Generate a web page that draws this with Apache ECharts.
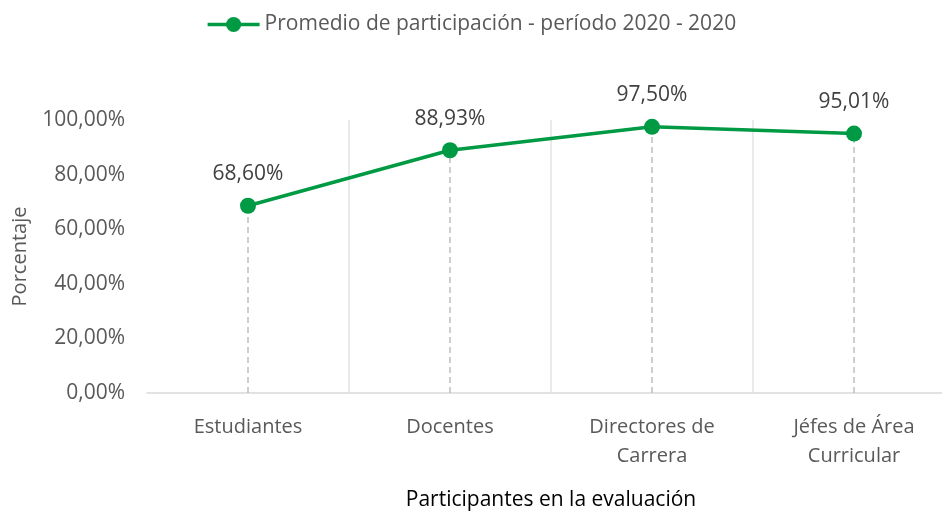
<!DOCTYPE html>
<html>
<head>
    <meta charset="utf-8">
    <title>Promedio de participación</title>
    <script src="https://cdn.jsdelivr.net/npm/echarts@6/dist/echarts.min.js"></script>
    <style>
        html, body { margin: 0; padding: 0; background: #fff; }
        #main { width: 942px; height: 515px; }
    </style>
</head>
<body>
<div id="main"></div>
<script>
    // datos
    var categorias = ['Estudiantes', 'Docentes', 'Directores de\nCarrera', 'Jéfes de Área\nCurricular'];
    var valores = [68.60, 88.93, 97.50, 95.01];
    var ticksY = [0, 20, 40, 60, 80, 100];
    var nombreSerie = 'Promedio de participación - período 2020 - 2020';

    var verde = '#009A44';
    var gris = '#595959';
    var fuente = '"Open Sans", "Noto Sans", sans-serif';

    function pct(v) {
        return v.toFixed(2).replace('.', ',') + '%';
    }

    // líneas de caída desde cada punto hasta el eje
    var caidas = valores.map(function (v, i) {
        return [{ coord: [i, 0] }, { coord: [i, v] }];
    });

    var chart = echarts.init(document.getElementById('main'));
    chart.setOption({
        animation: false,
        textStyle: { fontFamily: fuente },
        legend: {
            top: 9,
            left: 'center',
            itemWidth: 52,
            itemHeight: 19,
            itemGap: 8,
            lineStyle: { width: 3.5 },
            textStyle: { fontSize: 21, color: gris, fontFamily: fuente },
            data: [nombreSerie]
        },
        // el área del gráfico se sale un poco por la derecha, como en el original
        grid: { left: 147, right: -13, top: 120, bottom: 122, outerBoundsMode: 'none', containLabel: false },
        xAxis: {
            type: 'category',
            data: categorias,
            boundaryGap: true,
            name: 'Participantes en la evaluación',
            nameLocation: 'middle',
            nameGap: 97,
            nameTextStyle: { fontSize: 21, color: '#000', fontFamily: fuente },
            axisLine: { lineStyle: { color: '#d9d9d9', width: 1.5 } },
            axisTick: { show: false },
            axisLabel: { fontSize: 20, color: gris, margin: 20, lineHeight: 29, fontFamily: fuente },
            splitLine: {
                show: true,
                interval: function (i) { return i > 0; },
                lineStyle: { color: '#e3e3e3', width: 1.5 }
            }
        },
        yAxis: {
            type: 'value',
            min: ticksY[0],
            max: ticksY[ticksY.length - 1],
            interval: ticksY[1] - ticksY[0],
            name: 'Porcentaje',
            nameLocation: 'middle',
            nameGap: 117,
            nameTextStyle: { fontSize: 20, color: gris, fontFamily: fuente },
            axisLine: { show: false },
            axisTick: { show: false },
            splitLine: { show: false },
            axisLabel: {
                fontSize: 21, color: gris, margin: 22, fontFamily: fuente,
                formatter: function (v) { return pct(v); }
            }
        },
        series: [{
            name: nombreSerie,
            type: 'line',
            data: valores,
            symbol: 'circle',
            symbolSize: 16,
            z: 3,
            itemStyle: { color: verde },
            lineStyle: { color: verde, width: 3.5 },
            label: {
                show: true,
                position: 'top',
                distance: 13,
                fontSize: 21,
                color: '#404040',
                fontFamily: fuente,
                formatter: function (p) { return pct(p.value); }
            },
            markLine: {
                silent: true,
                symbol: 'none',
                label: { show: false },
                z: 1,
                lineStyle: { color: '#bfbfbf', type: [6, 4], width: 1.5 },
                data: caidas
            }
        }]
    });
</script>
</body>
</html>
